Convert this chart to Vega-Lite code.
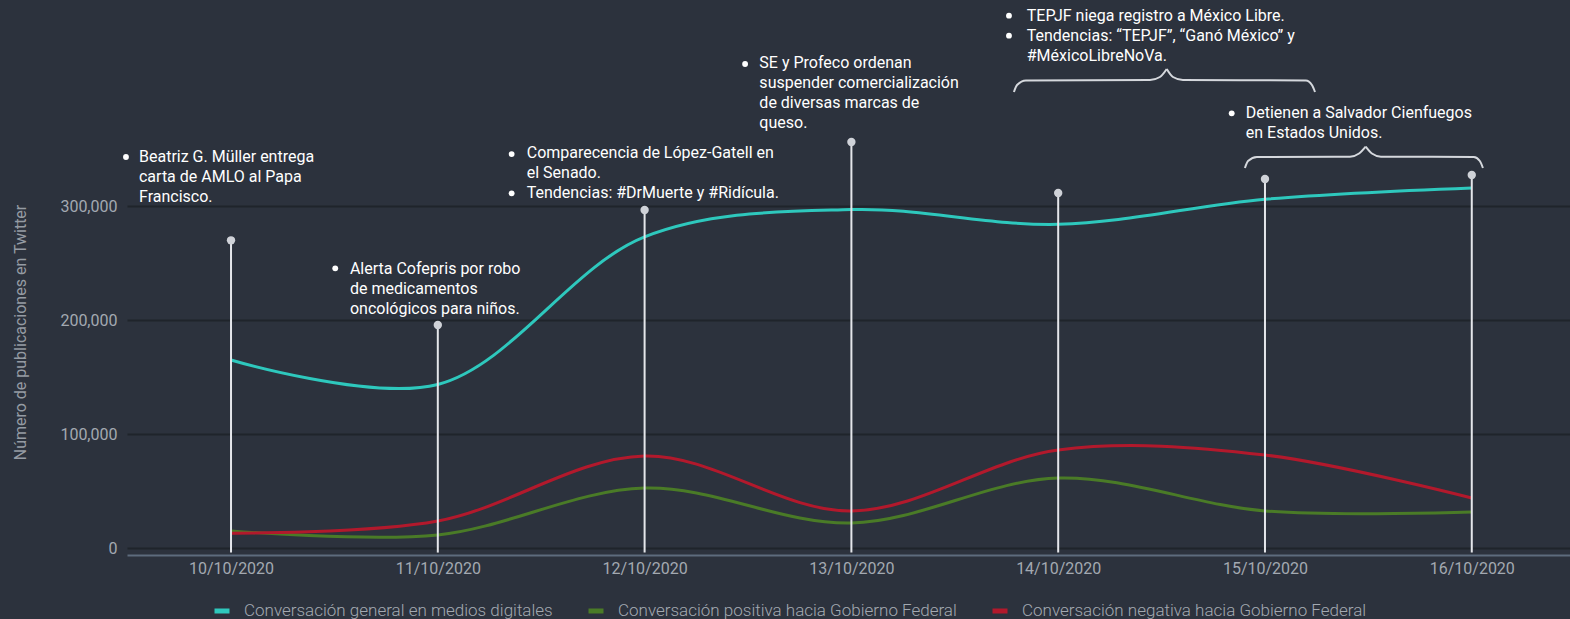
{
  "$schema": "https://vega.github.io/schema/vega-lite/v6.json",
  "width": 1443,
  "height": 547,
  "autosize": {"type": "none"},
  "padding": {"left": 127, "top": 1, "right": 0, "bottom": 71},
  "background": "#2c323d",
  "config": {"view": {"stroke": null}, "font": "Roboto"},
  "datasets": {
    "series": [
      {"date": "10/10/2020", "day": 10, "serie": "Conversación general en medios digitales", "value": 165000},
      {"date": "11/10/2020", "day": 11, "serie": "Conversación general en medios digitales", "value": 143500},
      {"date": "12/10/2020", "day": 12, "serie": "Conversación general en medios digitales", "value": 273000},
      {"date": "13/10/2020", "day": 13, "serie": "Conversación general en medios digitales", "value": 297000},
      {"date": "14/10/2020", "day": 14, "serie": "Conversación general en medios digitales", "value": 284000},
      {"date": "15/10/2020", "day": 15, "serie": "Conversación general en medios digitales", "value": 306000},
      {"date": "16/10/2020", "day": 16, "serie": "Conversación general en medios digitales", "value": 316000},
      {"date": "10/10/2020", "day": 10, "serie": "Conversación positiva hacia Gobierno Federal", "value": 15000},
      {"date": "11/10/2020", "day": 11, "serie": "Conversación positiva hacia Gobierno Federal", "value": 11500},
      {"date": "12/10/2020", "day": 12, "serie": "Conversación positiva hacia Gobierno Federal", "value": 52600},
      {"date": "13/10/2020", "day": 13, "serie": "Conversación positiva hacia Gobierno Federal", "value": 21900},
      {"date": "14/10/2020", "day": 14, "serie": "Conversación positiva hacia Gobierno Federal", "value": 61400},
      {"date": "15/10/2020", "day": 15, "serie": "Conversación positiva hacia Gobierno Federal", "value": 32500},
      {"date": "16/10/2020", "day": 16, "serie": "Conversación positiva hacia Gobierno Federal", "value": 31600},
      {"date": "10/10/2020", "day": 10, "serie": "Conversación negativa hacia Gobierno Federal", "value": 13000},
      {"date": "11/10/2020", "day": 11, "serie": "Conversación negativa hacia Gobierno Federal", "value": 23700},
      {"date": "12/10/2020", "day": 12, "serie": "Conversación negativa hacia Gobierno Federal", "value": 80700},
      {"date": "13/10/2020", "day": 13, "serie": "Conversación negativa hacia Gobierno Federal", "value": 32500},
      {"date": "14/10/2020", "day": 14, "serie": "Conversación negativa hacia Gobierno Federal", "value": 86000},
      {"date": "15/10/2020", "day": 15, "serie": "Conversación negativa hacia Gobierno Federal", "value": 81600},
      {"date": "16/10/2020", "day": 16, "serie": "Conversación negativa hacia Gobierno Federal", "value": 43900}
    ],
    "events": [
      {"day": 10, "value": 270000},
      {"day": 11, "value": 195700},
      {"day": 12, "value": 296600},
      {"day": 13, "value": 356300},
      {"day": 14, "value": 311500},
      {"day": 15, "value": 323800},
      {"day": 16, "value": 327300}
    ],
    "notes": [
      {"day": 9.555, "value": 338300, "text": "Beatriz G. Müller entrega\ncarta de AMLO al Papa\nFrancisco."},
      {"day": 10.575, "value": 240400, "text": "Alerta Cofepris por robo\nde medicamentos\noncológicos para niños."},
      {"day": 11.43, "value": 342000, "text": "Comparecencia de López-Gatell en\nel Senado.\nTendencias: #DrMuerte y #Ridícula."},
      {"day": 12.555, "value": 421000, "text": "SE y Profeco ordenan\nsuspender comercialización\nde diversas marcas de\nqueso."},
      {"day": 13.848, "value": 462700, "text": "TEPJF niega registro a México Libre.\nTendencias: “TEPJF”, “Ganó México” y\n#MéxicoLibreNoVa."},
      {"day": 14.907, "value": 377060, "text": "Detienen a Salvador Cienfuegos\nen Estados Unidos."}
    ],
    "bullets": [
      {"day": 9.492, "value": 343100},
      {"day": 10.504, "value": 245440},
      {"day": 11.357, "value": 345700},
      {"day": 11.357, "value": 311250},
      {"day": 12.486, "value": 424700},
      {"day": 13.762, "value": 467100},
      {"day": 13.762, "value": 449560},
      {"day": 14.839, "value": 381450}
    ],
    "braces": [
      {"part": "a1", "day": 13.786, "value": 400140},
      {"part": "a1", "day": 13.801, "value": 406280},
      {"part": "a1", "day": 13.844, "value": 410230},
      {"part": "a1", "day": 14.444, "value": 410670},
      {"part": "a1", "day": 14.492, "value": 413300},
      {"part": "a1", "day": 14.525, "value": 420320},
      {"part": "a2", "day": 14.525, "value": 420320},
      {"part": "a2", "day": 14.555, "value": 413300},
      {"part": "a2", "day": 14.603, "value": 410670},
      {"part": "a2", "day": 15.198, "value": 410230},
      {"part": "a2", "day": 15.227, "value": 406280},
      {"part": "a2", "day": 15.242, "value": 400140},
      {"part": "b1", "day": 14.903, "value": 333450},
      {"part": "b1", "day": 14.918, "value": 339600},
      {"part": "b1", "day": 14.961, "value": 343100},
      {"part": "b1", "day": 15.411, "value": 343360},
      {"part": "b1", "day": 15.455, "value": 346170},
      {"part": "b1", "day": 15.487, "value": 352140},
      {"part": "b2", "day": 15.487, "value": 352140},
      {"part": "b2", "day": 15.517, "value": 346170},
      {"part": "b2", "day": 15.561, "value": 343360},
      {"part": "b2", "day": 16.01, "value": 343100},
      {"part": "b2", "day": 16.039, "value": 339600},
      {"part": "b2", "day": 16.054, "value": 333450}
    ]
  },
  "encoding": {
    "x": {
      "field": "day",
      "type": "quantitative",
      "scale": {"domain": [9.497, 16.475], "nice": false, "zero": false},
      "axis": {
        "values": [10, 11, 12, 13, 14, 15, 16],
        "labelExpr": "datum.value + '/10/2020'",
        "title": null,
        "grid": false,
        "ticks": false,
        "domainColor": "#5d6b7d",
        "domainWidth": 2,
        "offset": 7,
        "labelColor": "#a3a9b1",
        "labelFontSize": 16,
        "labelPadding": 5,
        "labelFont": "Roboto"
      }
    },
    "y": {
      "field": "value",
      "type": "quantitative",
      "scale": {"domain": [0, 480000], "nice": false},
      "axis": {
        "values": [0, 100000, 200000, 300000],
        "labelExpr": "format(datum.value, ',.0f')",
        "title": "Número de publicaciones en Twitter",
        "titleColor": "#959ba3",
        "titleFontSize": 16,
        "titleFontWeight": "normal",
        "titleFont": "Roboto",
        "titleX": -107,
        "titleY": 331,
        "titleAngle": -90,
        "titleAlign": "center",
        "titleBaseline": "middle",
        "domain": false,
        "ticks": false,
        "labelPadding": 10,
        "labelColor": "#a3a9b1",
        "labelFontSize": 16,
        "labelFont": "Roboto",
        "gridColor": "#1f242b",
        "gridWidth": 2
      }
    }
  },
  "layer": [
    {
      "data": {"name": "series"},
      "mark": {"type": "line", "interpolate": "catmull-rom", "strokeWidth": 3},
      "encoding": {
        "color": {
          "field": "serie",
          "type": "nominal",
          "scale": {
            "domain": ["Conversación general en medios digitales", "Conversación positiva hacia Gobierno Federal", "Conversación negativa hacia Gobierno Federal"],
            "range": ["#2ec8bd", "#4a7b27", "#b2192c"]
          },
          "legend": {
            "orient": "none",
            "legendX": 85,
            "legendY": 600,
            "direction": "horizontal",
            "title": null,
            "symbolType": "stroke",
            "symbolStrokeWidth": 5,
            "symbolSize": 225,
            "labelColor": "#a3a9b1",
            "labelFontSize": 17,
            "labelFont": "Roboto",
            "labelFontWeight": 300,
            "labelOffset": 12,
            "labelLimit": 0,
            "columnPadding": 25
          }
        }
      }
    },
    {
      "data": {"name": "events"},
      "mark": {"type": "rule", "color": "#e4e6ea", "strokeWidth": 2},
      "encoding": {"y2": {"datum": -4000}}
    },
    {
      "data": {"name": "events"},
      "mark": {"type": "circle", "size": 70, "color": "#cfd2d8", "opacity": 1}
    },
    {
      "data": {"name": "notes"},
      "mark": {"type": "text", "align": "left", "baseline": "alphabetic", "lineBreak": "\n", "lineHeight": 20, "fontSize": 16, "color": "#ffffff", "font": "Roboto"},
      "encoding": {"text": {"field": "text"}}
    },
    {
      "data": {"name": "bullets"},
      "mark": {"type": "circle", "size": 34, "color": "#ffffff", "opacity": 1}
    },
    {
      "data": {"name": "braces"},
      "mark": {"type": "line", "interpolate": "monotone", "strokeWidth": 2, "color": "#d5d8dd"},
      "encoding": {"detail": {"field": "part"}}
    }
  ]
}
